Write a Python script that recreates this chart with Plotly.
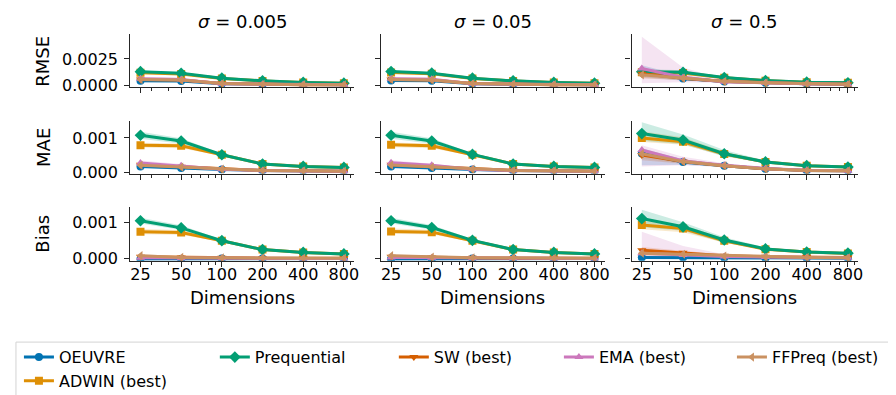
import math
import plotly.graph_objects as go

# ---------------- data ----------------
DIMS = [25, 50, 100, 200, 400, 800]
DIM_LABELS = ["25", "50", "100", "200", "400", "800"]
MINOR_TICKS = [30, 40, 60, 70, 80, 90, 300, 500, 600, 700, 900]
SIGMA_LABELS = ["0.005", "0.05", "0.5"]
METRICS = ["RMSE", "MAE", "Bias"]
METHODS = ["OEUVRE", "ADWIN (best)", "Prequential", "SW (best)", "EMA (best)", "FFPreq (best)"]
COLORS = ["#0173b2", "#de8f05", "#029e73", "#d55e00", "#cc78bc", "#ca9161"]
SYMBOLS = ["circle", "square", "diamond", "triangle-down", "triangle-up", "triangle-left"]
# legend column (matplotlib-style column-major layout) of each method
LEGEND_COL = [0, 0, 1, 2, 3, 4]

# order of rows in each block: OEUVRE, ADWIN, Prequential, SW, EMA, FFPreq
RMSE_005 = [[0.00045, 0.00042, 0.00015, 0.00010, 0.00007, 0.00005],
            [0.00120, 0.00108, 0.00066, 0.00042, 0.00028, 0.00021],
            [0.00130, 0.00114, 0.00068, 0.00043, 0.00028, 0.00021],
            [0.00055, 0.00050, 0.00017, 0.00010, 0.00007, 0.00005],
            [0.00062, 0.00056, 0.00016, 0.00011, 0.00008, 0.00006],
            [0.00055, 0.00050, 0.00017, 0.00010, 0.00007, 0.00005]]
RMSE_005_LO = [[0.00030, 0.00030, 0.00010, 0.00007, 0.00005, 0.00004],
               [0.00110, 0.00100, 0.00062, 0.00040, 0.00027, 0.00020],
               [0.00120, 0.00106, 0.00064, 0.00041, 0.00027, 0.00020],
               [0.00040, 0.00040, 0.00012, 0.00008, 0.00006, 0.00004],
               [0.00045, 0.00040, 0.00011, 0.00008, 0.00006, 0.00004],
               [0.00040, 0.00040, 0.00012, 0.00008, 0.00006, 0.00004]]
RMSE_005_HI = [[0.00060, 0.00055, 0.00020, 0.00013, 0.00009, 0.00006],
               [0.00130, 0.00116, 0.00070, 0.00044, 0.00029, 0.00022],
               [0.00140, 0.00122, 0.00072, 0.00045, 0.00029, 0.00022],
               [0.00070, 0.00062, 0.00022, 0.00012, 0.00008, 0.00006],
               [0.00080, 0.00072, 0.00022, 0.00014, 0.00010, 0.00008],
               [0.00070, 0.00062, 0.00022, 0.00012, 0.00008, 0.00006]]

RMSE_05 = [[0.00046, 0.00043, 0.00015, 0.00010, 0.00007, 0.00005],
           [0.00121, 0.00109, 0.00066, 0.00042, 0.00028, 0.00021],
           [0.00131, 0.00115, 0.00068, 0.00043, 0.00028, 0.00021],
           [0.00056, 0.00051, 0.00017, 0.00010, 0.00007, 0.00005],
           [0.00063, 0.00057, 0.00016, 0.00011, 0.00008, 0.00006],
           [0.00056, 0.00051, 0.00017, 0.00010, 0.00007, 0.00005]]
RMSE_05_LO = [[0.00031, 0.00031, 0.00010, 0.00007, 0.00005, 0.00004],
              [0.00111, 0.00101, 0.00062, 0.00040, 0.00027, 0.00020],
              [0.00121, 0.00107, 0.00064, 0.00041, 0.00027, 0.00020],
              [0.00041, 0.00041, 0.00012, 0.00008, 0.00006, 0.00004],
              [0.00046, 0.00041, 0.00011, 0.00008, 0.00006, 0.00004],
              [0.00041, 0.00041, 0.00012, 0.00008, 0.00006, 0.00004]]
RMSE_05_HI = [[0.00061, 0.00056, 0.00020, 0.00013, 0.00009, 0.00006],
              [0.00131, 0.00117, 0.00070, 0.00044, 0.00029, 0.00022],
              [0.00141, 0.00123, 0.00072, 0.00045, 0.00029, 0.00022],
              [0.00071, 0.00063, 0.00022, 0.00012, 0.00008, 0.00006],
              [0.00081, 0.00073, 0.00022, 0.00014, 0.00010, 0.00008],
              [0.00071, 0.00063, 0.00022, 0.00012, 0.00008, 0.00006]]

RMSE_5 = [[0.00130, 0.00065, 0.00037, 0.00024, 0.00015, 0.00010],
          [0.00125, 0.00118, 0.00072, 0.00045, 0.00030, 0.00024],
          [0.00130, 0.00123, 0.00074, 0.00046, 0.00030, 0.00025],
          [0.00110, 0.00068, 0.00037, 0.00024, 0.00015, 0.00010],
          [0.00160, 0.00075, 0.00035, 0.00024, 0.00015, 0.00010],
          [0.00100, 0.00068, 0.00038, 0.00024, 0.00015, 0.00010]]
RMSE_5_LO = [[0.00080, 0.00045, 0.00028, 0.00019, 0.00012, 0.00008],
             [0.00105, 0.00100, 0.00064, 0.00041, 0.00028, 0.00022],
             [0.00110, 0.00105, 0.00066, 0.00042, 0.00028, 0.00023],
             [0.00070, 0.00048, 0.00028, 0.00019, 0.00012, 0.00008],
             [0.00020, 0.00030, 0.00020, 0.00016, 0.00011, 0.00008],
             [0.00065, 0.00048, 0.00029, 0.00019, 0.00012, 0.00008]]
RMSE_5_HI = [[0.00190, 0.00090, 0.00047, 0.00029, 0.00018, 0.00012],
             [0.00150, 0.00138, 0.00082, 0.00050, 0.00032, 0.00026],
             [0.00155, 0.00143, 0.00084, 0.00051, 0.00032, 0.00027],
             [0.00160, 0.00092, 0.00047, 0.00029, 0.00018, 0.00012],
             [0.00460, 0.00170, 0.00055, 0.00032, 0.00019, 0.00012],
             [0.00140, 0.00090, 0.00047, 0.00029, 0.00018, 0.00012]]

MAE_005 = [[0.00017, 0.00012, 0.00008, 0.00005, 0.00004, 0.00003],
           [0.00079, 0.00077, 0.00051, 0.00024, 0.00017, 0.00014],
           [0.00108, 0.00091, 0.00051, 0.00024, 0.00017, 0.00014],
           [0.00022, 0.00016, 0.00009, 0.00005, 0.00004, 0.00003],
           [0.00027, 0.00019, 0.00009, 0.00005, 0.00004, 0.00003],
           [0.00020, 0.00015, 0.00009, 0.00005, 0.00004, 0.00003]]
MAE_005_LO = [[0.00013, 0.00009, 0.00006, 0.00004, 0.00003, 0.00002],
              [0.00072, 0.00070, 0.00048, 0.00023, 0.00016, 0.00013],
              [0.00098, 0.00083, 0.00048, 0.00023, 0.00016, 0.00013],
              [0.00017, 0.00012, 0.00007, 0.00004, 0.00003, 0.00002],
              [0.00020, 0.00014, 0.00007, 0.00004, 0.00003, 0.00002],
              [0.00016, 0.00012, 0.00007, 0.00004, 0.00003, 0.00002]]
MAE_005_HI = [[0.00021, 0.00015, 0.00010, 0.00006, 0.00005, 0.00004],
              [0.00086, 0.00084, 0.00054, 0.00025, 0.00018, 0.00015],
              [0.00118, 0.00099, 0.00054, 0.00025, 0.00018, 0.00015],
              [0.00027, 0.00020, 0.00011, 0.00006, 0.00005, 0.00004],
              [0.00034, 0.00024, 0.00011, 0.00006, 0.00005, 0.00004],
              [0.00024, 0.00018, 0.00011, 0.00006, 0.00005, 0.00004]]

MAE_05 = [[0.00017, 0.00012, 0.00008, 0.00005, 0.00004, 0.00003],
          [0.00080, 0.00077, 0.00051, 0.00024, 0.00017, 0.00014],
          [0.00108, 0.00091, 0.00052, 0.00024, 0.00017, 0.00014],
          [0.00022, 0.00016, 0.00009, 0.00005, 0.00004, 0.00003],
          [0.00028, 0.00020, 0.00009, 0.00005, 0.00004, 0.00003],
          [0.00021, 0.00015, 0.00009, 0.00005, 0.00004, 0.00003]]
MAE_05_LO = [[0.00013, 0.00009, 0.00006, 0.00004, 0.00003, 0.00002],
             [0.00073, 0.00070, 0.00048, 0.00023, 0.00016, 0.00013],
             [0.00098, 0.00083, 0.00049, 0.00023, 0.00016, 0.00013],
             [0.00017, 0.00012, 0.00007, 0.00004, 0.00003, 0.00002],
             [0.00021, 0.00015, 0.00007, 0.00004, 0.00003, 0.00002],
             [0.00017, 0.00012, 0.00007, 0.00004, 0.00003, 0.00002]]
MAE_05_HI = [[0.00021, 0.00015, 0.00010, 0.00006, 0.00005, 0.00004],
             [0.00087, 0.00084, 0.00054, 0.00025, 0.00018, 0.00015],
             [0.00118, 0.00099, 0.00055, 0.00025, 0.00018, 0.00015],
             [0.00027, 0.00020, 0.00011, 0.00006, 0.00005, 0.00004],
             [0.00035, 0.00025, 0.00011, 0.00006, 0.00005, 0.00004],
             [0.00025, 0.00018, 0.00011, 0.00006, 0.00005, 0.00004]]

MAE_5 = [[0.00055, 0.00030, 0.00019, 0.00010, 0.00005, 0.00004],
         [0.00100, 0.00089, 0.00053, 0.00030, 0.00019, 0.00015],
         [0.00113, 0.00094, 0.00054, 0.00030, 0.00019, 0.00015],
         [0.00050, 0.00031, 0.00019, 0.00010, 0.00005, 0.00004],
         [0.00065, 0.00033, 0.00020, 0.00011, 0.00006, 0.00004],
         [0.00054, 0.00031, 0.00019, 0.00010, 0.00005, 0.00004]]
MAE_5_LO = [[0.00020, 0.00022, 0.00015, 0.00008, 0.00004, 0.00003],
            [0.00088, 0.00080, 0.00047, 0.00027, 0.00017, 0.00014],
            [0.00092, 0.00082, 0.00046, 0.00027, 0.00017, 0.00014],
            [0.00035, 0.00025, 0.00016, 0.00008, 0.00004, 0.00003],
            [0.00017, 0.00020, 0.00015, 0.00008, 0.00004, 0.00003],
            [0.00040, 0.00025, 0.00016, 0.00008, 0.00004, 0.00003]]
MAE_5_HI = [[0.00070, 0.00038, 0.00023, 0.00012, 0.00006, 0.00005],
            [0.00120, 0.00102, 0.00060, 0.00033, 0.00021, 0.00016],
            [0.00146, 0.00110, 0.00065, 0.00034, 0.00021, 0.00016],
            [0.00065, 0.00038, 0.00023, 0.00012, 0.00006, 0.00005],
            [0.00079, 0.00045, 0.00026, 0.00013, 0.00007, 0.00005],
            [0.00068, 0.00038, 0.00023, 0.00012, 0.00006, 0.00005]]

BIAS_005 = [[-0.00001, -0.00001, 0.00000, 0.00000, 0.00000, 0.00000],
            [0.00075, 0.00073, 0.00050, 0.00025, 0.00017, 0.00013],
            [0.00106, 0.00086, 0.00050, 0.00025, 0.00017, 0.00013],
            [0.00005, 0.00003, 0.00002, 0.00001, 0.00001, 0.00001],
            [0.00002, 0.00001, 0.00001, 0.00001, 0.00000, 0.00000],
            [0.00008, 0.00003, 0.00002, 0.00002, 0.00001, 0.00001]]
BIAS_005_LO = [[-0.00004, -0.00003, -0.00002, -0.00001, -0.00001, -0.00001],
               [0.00068, 0.00067, 0.00047, 0.00024, 0.00016, 0.00012],
               [0.00098, 0.00080, 0.00047, 0.00024, 0.00016, 0.00012],
               [0.00001, 0.00000, 0.00000, 0.00000, 0.00000, 0.00000],
               [-0.00002, -0.00002, -0.00001, 0.00000, 0.00000, 0.00000],
               [0.00004, 0.00001, 0.00000, 0.00001, 0.00000, 0.00000]]
BIAS_005_HI = [[0.00002, 0.00001, 0.00002, 0.00001, 0.00001, 0.00001],
               [0.00083, 0.00080, 0.00053, 0.00026, 0.00018, 0.00014],
               [0.00114, 0.00093, 0.00053, 0.00026, 0.00018, 0.00014],
               [0.00009, 0.00006, 0.00004, 0.00002, 0.00002, 0.00002],
               [0.00006, 0.00004, 0.00003, 0.00002, 0.00001, 0.00001],
               [0.00013, 0.00006, 0.00004, 0.00003, 0.00002, 0.00002]]

BIAS_05 = [[-0.00001, -0.00001, 0.00000, 0.00000, 0.00000, 0.00000],
           [0.00076, 0.00074, 0.00050, 0.00025, 0.00017, 0.00013],
           [0.00106, 0.00087, 0.00051, 0.00025, 0.00017, 0.00013],
           [0.00005, 0.00003, 0.00002, 0.00001, 0.00001, 0.00001],
           [0.00003, 0.00002, 0.00001, 0.00001, 0.00000, 0.00000],
           [0.00008, 0.00004, 0.00002, 0.00002, 0.00001, 0.00001]]
BIAS_05_LO = [[-0.00004, -0.00003, -0.00002, -0.00001, -0.00001, -0.00001],
              [0.00069, 0.00068, 0.00047, 0.00024, 0.00016, 0.00012],
              [0.00098, 0.00081, 0.00048, 0.00024, 0.00016, 0.00012],
              [0.00001, 0.00000, 0.00000, 0.00000, 0.00000, 0.00000],
              [-0.00002, -0.00002, -0.00001, 0.00000, 0.00000, 0.00000],
              [0.00004, 0.00001, 0.00000, 0.00001, 0.00000, 0.00000]]
BIAS_05_HI = [[0.00002, 0.00001, 0.00002, 0.00001, 0.00001, 0.00001],
              [0.00084, 0.00081, 0.00053, 0.00026, 0.00018, 0.00014],
              [0.00114, 0.00094, 0.00054, 0.00026, 0.00018, 0.00014],
              [0.00009, 0.00006, 0.00004, 0.00002, 0.00002, 0.00002],
              [0.00008, 0.00005, 0.00003, 0.00002, 0.00001, 0.00001],
              [0.00013, 0.00007, 0.00004, 0.00003, 0.00002, 0.00002]]

BIAS_5 = [[0.00003, 0.00003, 0.00002, 0.00001, 0.00001, 0.00001],
          [0.00094, 0.00084, 0.00050, 0.00026, 0.00018, 0.00014],
          [0.00112, 0.00089, 0.00052, 0.00027, 0.00018, 0.00015],
          [0.00023, 0.00016, 0.00008, 0.00005, 0.00004, 0.00003],
          [0.00015, 0.00010, 0.00006, 0.00004, 0.00003, 0.00002],
          [0.00015, 0.00012, 0.00007, 0.00004, 0.00003, 0.00002]]
BIAS_5_LO = [[0.00000, 0.00000, 0.00000, 0.00000, 0.00000, 0.00000],
             [0.00082, 0.00074, 0.00044, 0.00024, 0.00016, 0.00013],
             [0.00088, 0.00078, 0.00044, 0.00024, 0.00016, 0.00013],
             [0.00015, 0.00010, 0.00005, 0.00003, 0.00002, 0.00002],
             [0.00002, 0.00002, 0.00001, 0.00002, 0.00001, 0.00001],
             [0.00008, 0.00007, 0.00004, 0.00002, 0.00002, 0.00001]]
BIAS_5_HI = [[0.00006, 0.00006, 0.00004, 0.00003, 0.00002, 0.00002],
             [0.00105, 0.00094, 0.00056, 0.00029, 0.00020, 0.00016],
             [0.00137, 0.00102, 0.00060, 0.00031, 0.00020, 0.00017],
             [0.00032, 0.00022, 0.00011, 0.00007, 0.00006, 0.00004],
             [0.00075, 0.00035, 0.00012, 0.00006, 0.00005, 0.00003],
             [0.00022, 0.00017, 0.00010, 0.00006, 0.00004, 0.00003]]

PANELS = [
    [(RMSE_005, RMSE_005_LO, RMSE_005_HI), (RMSE_05, RMSE_05_LO, RMSE_05_HI), (RMSE_5, RMSE_5_LO, RMSE_5_HI)],
    [(MAE_005, MAE_005_LO, MAE_005_HI), (MAE_05, MAE_05_LO, MAE_05_HI), (MAE_5, MAE_5_LO, MAE_5_HI)],
    [(BIAS_005, BIAS_005_LO, BIAS_005_HI), (BIAS_05, BIAS_05_LO, BIAS_05_HI), (BIAS_5, BIAS_5_LO, BIAS_5_HI)],
]
Y_RANGES = [[-0.000185, 0.00481], [-0.00004, 0.001506], [-0.000063, 0.001448]]
Y_TICKS = [[0.0, 0.0025], [0.0, 0.001], [0.0, 0.001]]
Y_FORMATS = [".4f", ".3f", ".3f"]

# ---------------- layout geometry (pixels) ----------------
W, H = 896, 395
COL_PX = [(123, 348), (375, 600), (627, 855)]
ROW_PX = [(27, 81), (115, 169), (203, 258)]
LEGEND_X_PX = [11, 208, 388, 554, 728]
INK = "#262626"
FONT = "DejaVu Sans"


def hex_rgba(h, a):
    h = h.lstrip("#")
    return "rgba(%d,%d,%d,%.2f)" % (int(h[0:2], 16), int(h[2:4], 16), int(h[4:6], 16), a)


def legend_name(col):
    return "legend" if col == 0 else "legend%d" % (col + 1)


fig = go.Figure()
lx = [math.log10(DIMS[0]), math.log10(DIMS[-1])]
pad = 0.05 * (lx[1] - lx[0])
x_range = [lx[0] - pad, lx[1] + pad]

layout = dict()
for r in range(3):
    for c in range(3):
        i = r * 3 + c + 1
        xs = "" if i == 1 else str(i)
        xname, yname = "x" + xs, "y" + xs
        mean, lo, hi = PANELS[r][c]
        for m in range(len(METHODS)):
            fig.add_trace(go.Scatter(
                x=DIMS + DIMS[::-1], y=hi[m] + lo[m][::-1],
                fill="toself", fillcolor=hex_rgba(COLORS[m], 0.2),
                line=dict(width=0), mode="lines", hoverinfo="skip",
                showlegend=False, xaxis=xname, yaxis=yname))
        for m in range(len(METHODS)):
            fig.add_trace(go.Scatter(
                x=DIMS, y=mean[m], mode="lines+markers", name=METHODS[m],
                line=dict(color=COLORS[m], width=3),
                marker=dict(symbol=SYMBOLS[m], size=9 if SYMBOLS[m] == "diamond" else 8,
                            color=COLORS[m], line=dict(width=0)),
                legendgroup=METHODS[m], legend=legend_name(LEGEND_COL[m]),
                showlegend=(i == 1), xaxis=xname, yaxis=yname))
        x0, x1 = COL_PX[c]
        y0, y1 = ROW_PX[r]
        layout["xaxis" + xs] = dict(
            type="log", range=x_range, domain=[x0 / W, x1 / W], anchor=yname,
            tickmode="array", tickvals=DIMS, ticktext=DIM_LABELS,
            showticklabels=(r == 2), ticks="outside", ticklen=5, tickwidth=1.25,
            tickcolor=INK, showline=True, linecolor=INK, linewidth=1.25,
            showgrid=False, zeroline=False, ticklabelstandoff=-6,
            tickfont=dict(size=16, color="black", family=FONT),
            minor=dict(tickmode="array", tickvals=MINOR_TICKS, ticks="outside",
                       ticklen=3, tickwidth=1, tickcolor=INK, showgrid=False))
        layout["yaxis" + xs] = dict(
            range=Y_RANGES[r], domain=[1 - y1 / H, 1 - y0 / H], anchor=xname,
            tickmode="array", tickvals=Y_TICKS[r], tickformat=Y_FORMATS[r],
            showticklabels=(c == 0), ticks="outside", ticklen=5, tickwidth=1.25,
            tickcolor=INK, showline=True, linecolor=INK, linewidth=1.25,
            showgrid=False, zeroline=False, ticklabelstandoff=3,
            tickfont=dict(size=16, color="black", family=FONT))

annotations = []
for c in range(3):
    xc = (COL_PX[c][0] + COL_PX[c][1]) / 2 / W
    annotations.append(dict(text="<i>σ</i> = " + SIGMA_LABELS[c], x=xc, y=1 - 14 / H,
                            xref="paper", yref="paper", showarrow=False,
                            xanchor="center", yanchor="middle",
                            font=dict(size=18, color="black", family=FONT)))
    annotations.append(dict(text="Dimensions", x=xc, y=1 - 295 / H,
                            xref="paper", yref="paper", showarrow=False,
                            xanchor="center", yanchor="middle",
                            font=dict(size=18, color="black", family=FONT)))
for r in range(3):
    yc = 1 - (ROW_PX[r][0] + ROW_PX[r][1]) / 2 / H
    annotations.append(dict(text=METRICS[r], x=35 / W, y=yc, textangle=-90,
                            xref="paper", yref="paper", showarrow=False,
                            xanchor="center", yanchor="middle",
                            font=dict(size=18, color="black", family=FONT)))

legends = {}
for k, px in enumerate(LEGEND_X_PX):
    legends["legend" if k == 0 else "legend%d" % (k + 1)] = dict(
        orientation="v", x=px / W, y=1 - 339 / H, xanchor="left", yanchor="top",
        borderwidth=0, bgcolor="rgba(0,0,0,0)", traceorder="normal", tracegroupgap=0,
        font=dict(size=16, family=FONT, color="black"))

fig.update_layout(
    width=W, height=H, margin=dict(l=0, r=0, t=0, b=0),
    paper_bgcolor="white", plot_bgcolor="white",
    font=dict(family=FONT, color="black"),
    annotations=annotations,
    shapes=[dict(type="rect", xref="paper", yref="paper", x0=8 / W, x1=892 / W,
                 y0=-0.05, y1=1 - 341 / H, line=dict(color="#d3d3d3", width=1),
                 fillcolor="white", layer="below")],
    **legends,
    **layout)

fig.write_html("out.html")
